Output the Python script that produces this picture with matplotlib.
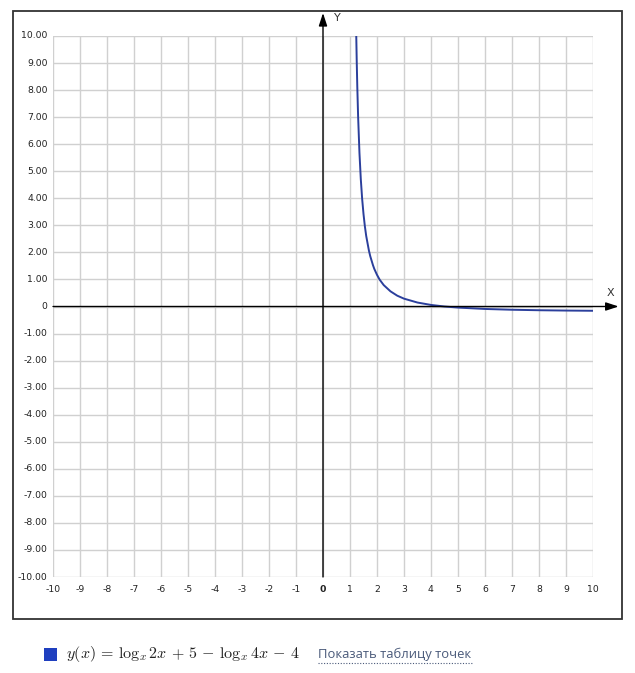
import matplotlib
matplotlib.use('Agg')
import matplotlib.pyplot as plt
from matplotlib.patches import Rectangle

plt.rcParams['mathtext.fontset'] = 'cm'

# points
curve_x = [1.23, 1.25, 1.27, 1.3, 1.35, 1.4, 1.45, 1.5, 1.55, 1.6, 1.7, 1.75, 1.85,
           1.9, 2.0, 2.1, 2.25, 2.5, 2.75, 3.0, 3.5, 4.0, 4.5, 5.0, 6.0, 7.0, 8.0, 9.0, 10.0]
curve_y = [10.1, 9.03, 8.13, 7.04, 5.68, 4.71, 3.98, 3.42, 2.97, 2.61, 2.07, 1.86, 1.53,
           1.39, 1.17, 0.99, 0.79, 0.56, 0.40, 0.29, 0.146, 0.058, 0.0, -0.040, -0.091,
           -0.120, -0.138, -0.150, -0.158]

x_ticks = list(range(-10, 11))
y_ticks = list(range(-10, 11))
x_labels = [str(v) for v in x_ticks]
y_labels = ['0' if v == 0 else '%.2f' % v for v in y_ticks]

W, H = 635, 673
fig = plt.figure(figsize=(W / 100, H / 100), dpi=100)

# outer frame
fig.add_artist(Rectangle((13 / W, 1 - 619 / H), (622 - 13) / W, (619 - 11) / H,
                         transform=fig.transFigure, fill=False,
                         edgecolor='#333333', linewidth=1.3))

ax = fig.add_axes([53 / W, 1 - 577 / H, 540 / W, 541 / H])
ax.set_xlim(-10, 10)
ax.set_ylim(-10, 10)
for s in ax.spines.values():
  s.set_visible(False)
ax.set_xticks(x_ticks)
ax.set_yticks(y_ticks)
ax.set_xticklabels([])
ax.set_yticklabels([])
ax.tick_params(length=0)
ax.grid(True, color='#d0d0d0', linewidth=1.0)

# axes with arrows
arrow = '-|>,head_width=0.18,head_length=0.55'
ax.annotate('', xy=(10.95, 0), xytext=(-10, 0), annotation_clip=False,
            arrowprops=dict(arrowstyle=arrow, color='black',
                            lw=1.0, mutation_scale=14, shrinkA=0, shrinkB=0))
ax.annotate('', xy=(0, 10.85), xytext=(0, -10), annotation_clip=False,
            arrowprops=dict(arrowstyle=arrow, color='black',
                            lw=1.0, mutation_scale=14, shrinkA=0, shrinkB=0))
ax.text(10.65, 0.5, 'X', ha='center', va='center', fontsize=8, color='#333333')
ax.text(0.55, 10.65, 'Y', ha='center', va='center', fontsize=8, color='#333333')

for v, lab in zip(x_ticks, x_labels):
  ax.text(v, -10.45, lab, ha='center', va='center', fontsize=6.7, color='#222222',
          fontweight='bold' if v == 0 else 'normal')
for v, lab in zip(y_ticks, y_labels):
  ax.text(-10.2, v, lab, ha='right', va='center', fontsize=6.7, color='#222222')

ax.plot(curve_x, curve_y, color='#2b3f9c', linewidth=1.4, clip_on=True)

# legend below
fig.add_artist(Rectangle((44 / W, 1 - 661 / H), 13 / W, 13 / H,
                         transform=fig.transFigure, facecolor='#1f3fbf', edgecolor='none'))
fig.text(66 / W, 1 - 654 / H,
         r'$y(x)\,=\,\log_x 2x\,+\,5\,-\,\log_x 4x\,-\,4$',
         ha='left', va='center', fontsize=11.5, color='#222222')
fig.text(318 / W, 1 - 654 / H, 'Показать таблицу точек', ha='left', va='center',
         fontsize=9.4, color='#4a5a7a', family='Open Sans')
fig.add_artist(plt.Line2D([318 / W, 472 / W], [1 - 663 / H, 1 - 663 / H],
                          transform=fig.transFigure, color='#4a5a7a',
                          linewidth=0.8, linestyle=(0, (1, 1.5))))

plt.savefig('out.png', dpi=100)
plt.close()
